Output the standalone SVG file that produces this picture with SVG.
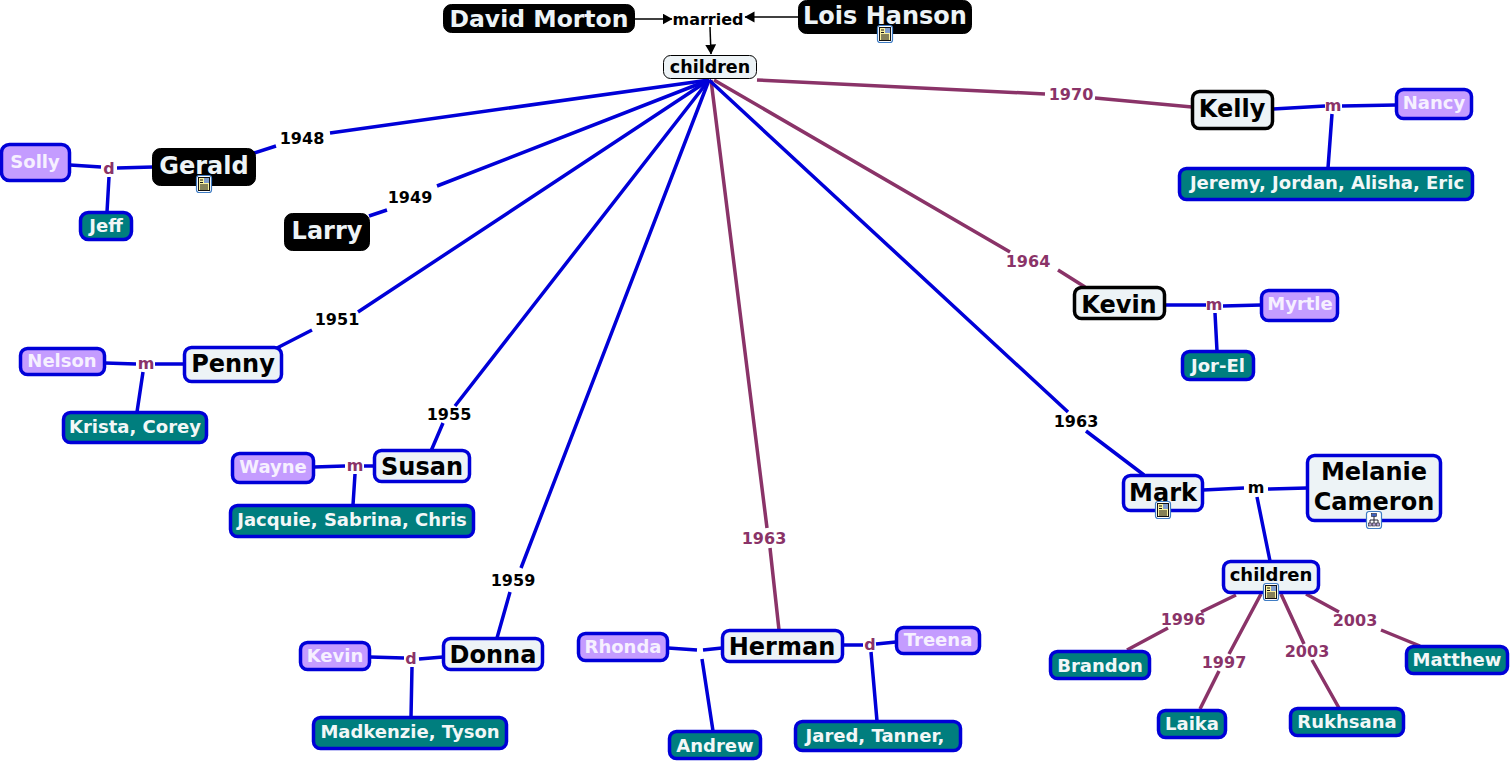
<svg xmlns="http://www.w3.org/2000/svg" width="1510" height="761" viewBox="0 0 1510 761">
<style>
text{font-family:"DejaVu Sans",Verdana,sans-serif;font-weight:700;text-anchor:middle}
.blk rect{fill:#000;stroke:#000;stroke-width:1}
.blk text{fill:#edf3f6}
.lt rect{fill:#edf3f6;stroke:#0000d8;stroke-width:3.5}
.ltk rect{fill:#edf3f6;stroke:#000;stroke-width:3.5}
.pu rect{fill:#c49cff;stroke:#0000d8;stroke-width:3.5}
.pu text{fill:#f6f0ff;font-size:18px}
.te rect{fill:#007e7e;stroke:#0000d8;stroke-width:3.5}
.te text{fill:#f2f7f7;font-size:18px}
.c path{fill:none}
.b{stroke:#0000d8;stroke-width:3.5}
.p{stroke:#8a3368;stroke-width:3.5}
.k{stroke:#000;stroke-width:1.5}
.lb{font-size:16px;fill:#000}
.lp{font-size:16px;fill:#8a3368}
</style>
<defs>
<marker id="arr" markerWidth="11" markerHeight="12" refX="9.500" refY="5.500" orient="auto" markerUnits="userSpaceOnUse"><path d="M0 0L10 5.500L0 11Z" fill="#000"/></marker>
<symbol id="doc" viewBox="0 0 16 18" overflow="visible">
<rect x="0.500" y="0.500" width="15" height="17" rx="2.500" fill="#fff" stroke="#3f7cc4" stroke-width="1.200"/>
<rect x="2.500" y="2.500" width="11" height="13" fill="#fbf3a0" stroke="#111" stroke-width="1"/>
<rect x="8" y="3" width="5" height="5" fill="#7f9ccc"/>
<path d="M4 5H7M4 7.500H7M4 10H12M4 12H12M4 14H12" stroke="#111" stroke-width="1"/>
</symbol>
<symbol id="map" viewBox="0 0 16 18" overflow="visible">
<rect x="0.500" y="0.500" width="15" height="17" rx="2.500" fill="#fff" stroke="#3f7cc4" stroke-width="1.200"/>
<path d="M8 5V13M4 13V9H12V13" stroke="#223" fill="none"/>
<rect x="5.500" y="2.500" width="5" height="3" fill="#3f62c0" stroke="#223" stroke-width="0.600"/>
<rect x="2.500" y="12" width="3" height="3" fill="#b4a0d0" stroke="#223" stroke-width="0.600"/>
<rect x="6.500" y="12" width="3" height="3" fill="#b4a0d0" stroke="#223" stroke-width="0.600"/>
<rect x="10.500" y="12" width="3" height="3" fill="#b4a0d0" stroke="#223" stroke-width="0.600"/>
</symbol>
</defs>
<rect width="1510" height="761" fill="#fff"/>
<g id="connectors" class="c">
<path class="k" marker-end="url(#arr)" d="M635 19H672"/>
<path class="k" marker-end="url(#arr)" d="M798 17H745"/>
<path class="k" marker-end="url(#arr)" d="M710 27L711 54"/>
<path class="b" d="M709 80L330 133M276 146L254 153"/>
<path class="b" d="M709 80L437 186M387 210L369 216"/>
<path class="b" d="M709 80L358 312M312 330L275 349"/>
<path class="b" d="M709 80L455 406M443 423L431 451"/>
<path class="b" d="M709 80L521 568M510 592L497 638"/>
<path class="p" d="M711 80L767 528M770 548L779 630"/>
<path class="b" d="M709 80L1068 412M1086 431L1144 475"/>
<path class="p" d="M714 80L1010 252M1058 270L1085 287"/>
<path class="p" d="M757 80L1045 94M1095 98L1192 107"/>
<path class="b" d="M70 165L101 167M117 168L153 167M109 177L107 212"/>
<path class="b" d="M105 363L136 364M155 364L184 364M143 372L137 412"/>
<path class="b" d="M314 467L345 466M364 466L374 466M355 474L353 505"/>
<path class="b" d="M370 657L404 658M419 659L443 657M412 667L411 717"/>
<path class="b" d="M668 648L697 650M703 650L722 648M702 659L713 731"/>
<path class="b" d="M842 645L863 645M876 644L896 642M871 652L877 721"/>
<path class="b" d="M1273 109L1325 106M1342 106L1396 105M1332 114L1328 168"/>
<path class="b" d="M1165 305L1206 305M1223 306L1261 305M1215 313L1217 351"/>
<path class="b" d="M1203 490L1244 488M1268 489L1307 488M1257 497L1270 561"/>
<path class="p" d="M1236 595L1201 612M1168 628L1127 650"/>
<path class="p" d="M1261 594L1229 654M1219 671L1200 709"/>
<path class="p" d="M1281 594L1304 644M1312 660L1339 708"/>
<path class="p" d="M1306 594L1339 612M1381 630L1420 646"/>
</g>
<g id="n-david" class="blk"><rect x="443.500" y="4.500" width="191" height="28" rx="8"/><text x="539" y="27" font-size="23.500">David Morton</text></g>
<g id="n-lois" class="blk"><rect x="798.500" y="0.500" width="173" height="33" rx="8"/><text x="885" y="24" font-size="24">Lois Hanson</text><use href="#doc" x="877" y="25" width="16" height="18"/></g>
<g id="n-married"><text x="708" y="25" font-size="16">married</text></g>
<g id="n-children"><rect x="663.500" y="55.500" width="93" height="23" rx="7" fill="#edf3f6" stroke="#000" stroke-width="1"/><text x="710" y="73" font-size="17.500">children</text></g>
<g id="n-gerald" class="blk"><rect x="152.500" y="148.500" width="103" height="37" rx="8"/><text x="204" y="174" font-size="24">Gerald</text><use href="#doc" x="196" y="175" width="16" height="18"/></g>
<g id="n-larry" class="blk"><rect x="284.500" y="213.500" width="85" height="37" rx="8"/><text x="327" y="239" font-size="24">Larry</text></g>
<g id="n-solly" class="pu"><rect x="1.500" y="144.500" width="68" height="36" rx="8"/><text x="35" y="168">Solly</text></g>
<g id="n-jeff" class="te"><rect x="80.500" y="212.500" width="51" height="27" rx="8"/><text x="106" y="232">Jeff</text></g>
<g id="n-penny" class="lt"><rect x="184.500" y="347.500" width="97" height="34" rx="7"/><text x="233" y="372" font-size="24">Penny</text></g>
<g id="n-nelson" class="pu"><rect x="20.500" y="348.500" width="84" height="26" rx="7"/><text x="62" y="367">Nelson</text></g>
<g id="n-krista" class="te"><rect x="63.500" y="412.500" width="143" height="30" rx="7"/><text x="135" y="433">Krista, Corey</text></g>
<g id="n-susan" class="lt"><rect x="374.500" y="450.500" width="95" height="31" rx="7"/><text x="422" y="475" font-size="24">Susan</text></g>
<g id="n-wayne" class="pu"><rect x="232.500" y="453.500" width="81" height="29" rx="7"/><text x="273" y="473">Wayne</text></g>
<g id="n-jacquie" class="te"><rect x="230.500" y="505.500" width="243" height="31" rx="7"/><text x="352" y="526">Jacquie, Sabrina, Chris</text></g>
<g id="n-donna" class="lt"><rect x="443.500" y="638.500" width="99" height="31" rx="7"/><text x="493" y="663" font-size="24">Donna</text></g>
<g id="n-kevin2" class="pu"><rect x="300.500" y="642.500" width="69" height="27" rx="7"/><text x="335" y="662">Kevin</text></g>
<g id="n-madkenzie" class="te"><rect x="313.500" y="717.500" width="193" height="31" rx="7"/><text x="410" y="738">Madkenzie, Tyson</text></g>
<g id="n-herman" class="lt"><rect x="722.500" y="630.500" width="120" height="31" rx="7"/><text x="782" y="655" font-size="24">Herman</text></g>
<g id="n-rhonda" class="pu"><rect x="578.500" y="633.500" width="89" height="27" rx="7"/><text x="623" y="653">Rhonda</text></g>
<g id="n-treena" class="pu"><rect x="896.500" y="627.500" width="83" height="26" rx="7"/><text x="938" y="646">Treena</text></g>
<g id="n-andrew" class="te"><rect x="669.500" y="731.500" width="91" height="27" rx="7"/><text x="715" y="752">Andrew</text></g>
<g id="n-jared" class="te"><rect x="795.500" y="721.500" width="165" height="29" rx="7"/><text x="875" y="742" font-size="18.700">Jared, Tanner, </text></g>
<g id="n-kelly" class="ltk"><rect x="1192.500" y="91.500" width="80" height="37" rx="7"/><text x="1232" y="117" font-size="24">Kelly</text></g>
<g id="n-nancy" class="pu"><rect x="1396.500" y="89.500" width="75" height="29" rx="7"/><text x="1434" y="109">Nancy</text></g>
<g id="n-kids-kelly" class="te"><rect x="1179.500" y="168.500" width="293" height="31" rx="7"/><text x="1327" y="189" font-size="18.400">Jeremy, Jordan, Alisha, Eric</text></g>
<g id="n-kevin" class="ltk"><rect x="1074.500" y="287.500" width="90" height="31" rx="7"/><text x="1119" y="313" font-size="24">Kevin</text></g>
<g id="n-myrtle" class="pu"><rect x="1261.500" y="290.500" width="76" height="30" rx="7"/><text x="1300" y="310">Myrtle</text></g>
<g id="n-jorel" class="te"><rect x="1182.500" y="351.500" width="71" height="28" rx="7"/><text x="1218" y="372">Jor-El</text></g>
<g id="n-mark" class="lt"><rect x="1123.500" y="475.500" width="79" height="35" rx="7"/><text x="1163" y="501" font-size="24">Mark</text><use href="#doc" x="1155" y="501" width="16" height="18"/></g>
<g id="n-melanie" class="lt"><rect x="1307.500" y="455.500" width="133" height="65" rx="7"/><text x="1374" y="480" font-size="24">Melanie</text><text x="1374" y="510" font-size="24">Cameron</text><use href="#map" x="1366" y="511" width="16" height="18"/></g>
<g id="n-children2" class="lt"><rect x="1223.500" y="561.500" width="95" height="31" rx="7"/><text x="1271" y="581" font-size="18">children</text><use href="#doc" x="1263" y="583" width="16" height="18"/></g>
<g id="n-brandon" class="te"><rect x="1050.500" y="651.500" width="99" height="27" rx="7"/><text x="1100" y="672">Brandon</text></g>
<g id="n-laika" class="te"><rect x="1158.500" y="710.500" width="67" height="27" rx="7"/><text x="1192" y="730">Laika</text></g>
<g id="n-rukhsana" class="te"><rect x="1290.500" y="708.500" width="113" height="27" rx="7"/><text x="1347" y="728">Rukhsana</text></g>
<g id="n-matthew" class="te"><rect x="1406.500" y="646.500" width="101" height="27" rx="7"/><text x="1457" y="666">Matthew</text></g>
<g id="labels">
<text class="lb" x="302" y="144">1948</text>
<text class="lb" x="410" y="203">1949</text>
<text class="lb" x="337" y="325">1951</text>
<text class="lb" x="449" y="420">1955</text>
<text class="lb" x="513" y="586">1959</text>
<text class="lp" x="764" y="544">1963</text>
<text class="lb" x="1076" y="427">1963</text>
<text class="lp" x="1028" y="267">1964</text>
<text class="lp" x="1071" y="100">1970</text>
<text class="lp" x="109" y="174">d</text>
<text class="lp" x="146" y="369">m</text>
<text class="lp" x="355" y="471">m</text>
<text class="lp" x="411" y="664">d</text>
<text class="lp" x="870" y="650">d</text>
<text class="lp" x="1333" y="111">m</text>
<text class="lp" x="1214" y="310">m</text>
<text class="lb" x="1256" y="493">m</text>
<text class="lp" x="1183" y="625">1996</text>
<text class="lp" x="1224" y="668">1997</text>
<text class="lp" x="1307" y="657">2003</text>
<text class="lp" x="1355" y="626">2003</text>
</g>
</svg>
